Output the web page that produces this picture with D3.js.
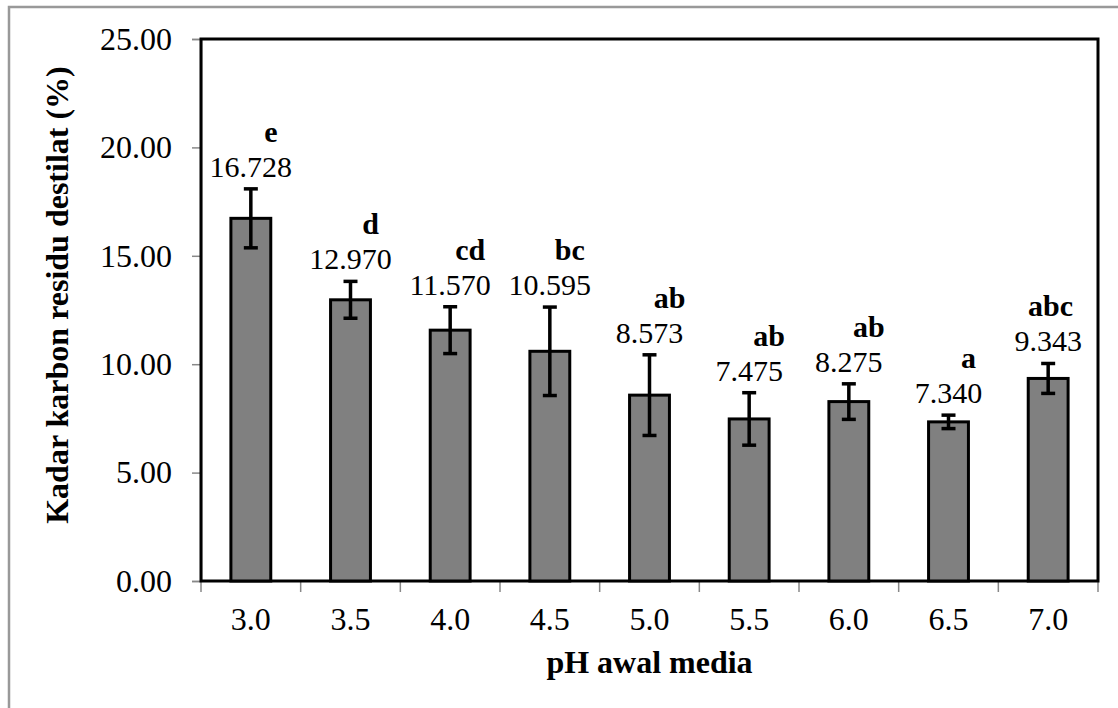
<!DOCTYPE html>
<html>
<head>
<meta charset="utf-8">
<script src="https://cdn.jsdelivr.net/npm/d3@7"></script>
<style>
  body { margin: 0; background: #fff; }
</style>
</head>
<body>
<svg id="chart"></svg>
<script>
// data
var phLabels = ["3.0", "3.5", "4.0", "4.5", "5.0", "5.5", "6.0", "6.5", "7.0"];
var karbon   = [16.728, 12.970, 11.570, 10.595, 8.573, 7.475, 8.275, 7.340, 9.343];
var errBar   = [1.36, 0.85, 1.08, 2.04, 1.86, 1.21, 0.82, 0.31, 0.69];
var notasi   = ["e", "d", "cd", "bc", "ab", "ab", "ab", "a", "abc"];
var yTicks   = [0, 5, 10, 15, 20, 25];

var FONT = "Liberation Serif";
var W = 1118, H = 708;
var margin = {top: 39, right: 20, bottom: 127, left: 201};
var width = W - margin.left - margin.right,
    height = H - margin.top - margin.bottom;

var svg = d3.select("#chart").attr("width", W).attr("height", H)
  .attr("font-family", FONT);

// outer frame (only top and left show)
svg.append("path")
  .attr("d", "M9," + H + "V7H" + W)
  .attr("fill", "none")
  .attr("stroke", "#999")
  .attr("stroke-width", 2.5);

var g = svg.append("g")
  .attr("transform", "translate(" + margin.left + "," + margin.top + ")");

// scales
var x = d3.scaleBand().domain(phLabels).range([0, width])
  .paddingInner(0.6).paddingOuter(0.3);
var y = d3.scaleLinear().domain([0, 25]).range([height, 0]);

// y axis
var yAxis = g.append("g")
  .call(d3.axisLeft(y).tickValues(yTicks).tickFormat(d3.format(".2f"))
    .tickSize(9).tickPadding(20));
yAxis.attr("font-family", FONT);
yAxis.select(".domain").attr("stroke", "#888").attr("stroke-width", 1.5);
yAxis.selectAll(".tick line").attr("stroke", "#888").attr("stroke-width", 1.5);
yAxis.selectAll(".tick text")
  .attr("font-size", 32).attr("font-family", FONT).attr("fill", "#000");

// x axis ticks at band boundaries
var step = x.step();
var bounds = d3.range(phLabels.length + 1).map(function(i) { return i * step; });
g.selectAll(".xtick")
  .data(bounds)
  .enter().append("line")
  .attr("x1", function(d) { return d; })
  .attr("x2", function(d) { return d; })
  .attr("y1", height)
  .attr("y2", height + 11)
  .attr("stroke", "#888")
  .attr("stroke-width", 1.5);

g.selectAll(".xlab")
  .data(phLabels)
  .enter().append("text")
  .attr("x", function(d) { return x(d) + x.bandwidth() / 2; })
  .attr("y", height + 49)
  .attr("text-anchor", "middle")
  .attr("font-family", FONT)
  .attr("font-size", 32)
  .text(function(d) { return d; });

// plot area border
g.append("rect")
  .attr("x", 0).attr("y", 0)
  .attr("width", width).attr("height", height)
  .attr("fill", "none")
  .attr("stroke", "#000")
  .attr("stroke-width", 3);

// bars
g.selectAll(".bar")
  .data(karbon)
  .enter().append("rect")
  .attr("x", function(d, i) { return x(phLabels[i]); })
  .attr("y", function(d) { return y(d); })
  .attr("width", x.bandwidth())
  .attr("height", function(d) { return height - y(d); })
  .attr("fill", "#808080")
  .attr("stroke", "#000")
  .attr("stroke-width", 3);

// error bars
var cx = function(i) { return x(phLabels[i]) + x.bandwidth() / 2; };
var eb = g.selectAll(".err")
  .data(karbon)
  .enter().append("g")
  .attr("stroke", "#000")
  .attr("stroke-width", 3.5);
eb.append("line")
  .attr("x1", function(d, i) { return cx(i); })
  .attr("x2", function(d, i) { return cx(i); })
  .attr("y1", function(d, i) { return y(d + errBar[i]); })
  .attr("y2", function(d, i) { return y(d - errBar[i]); });
eb.append("line")
  .attr("x1", function(d, i) { return cx(i) - 7; })
  .attr("x2", function(d, i) { return cx(i) + 7; })
  .attr("y1", function(d, i) { return y(d + errBar[i]); })
  .attr("y2", function(d, i) { return y(d + errBar[i]); });
eb.append("line")
  .attr("x1", function(d, i) { return cx(i) - 7; })
  .attr("x2", function(d, i) { return cx(i) + 7; })
  .attr("y1", function(d, i) { return y(d - errBar[i]); })
  .attr("y2", function(d, i) { return y(d - errBar[i]); });

// value labels
g.selectAll(".val")
  .data(karbon)
  .enter().append("text")
  .attr("x", function(d, i) { return cx(i); })
  .attr("y", function(d, i) { return y(d + errBar[i]) - 12; })
  .attr("text-anchor", "middle")
  .attr("font-family", FONT)
  .attr("font-size", 30)
  .text(function(d) { return d3.format(".3f")(d); });

// significance letters
g.selectAll(".notasi")
  .data(notasi)
  .enter().append("text")
  .attr("y", function(d, i) { return y(karbon[i] + errBar[i]) - 47; })
  .attr("text-anchor", "middle")
  .attr("font-family", FONT)
  .attr("font-size", 30)
  .attr("font-weight", "bold")
  .text(function(d) { return d; })
  .attr("x", function(d, i) {
    var w = this.getComputedTextLength();
    return Math.min(cx(i) + 20, width - 25 - w / 2);
  });

// axis titles
svg.append("text")
  .attr("transform", "translate(68,295) rotate(-90)")
  .attr("text-anchor", "middle")
  .attr("font-family", FONT)
  .attr("font-size", 32)
  .attr("font-weight", "bold")
  .text("Kadar karbon residu destilat (%)");

svg.append("text")
  .attr("x", margin.left + width / 2)
  .attr("y", 673)
  .attr("text-anchor", "middle")
  .attr("font-family", FONT)
  .attr("font-size", 32)
  .attr("font-weight", "bold")
  .text("pH awal media");
</script>
</body>
</html>
